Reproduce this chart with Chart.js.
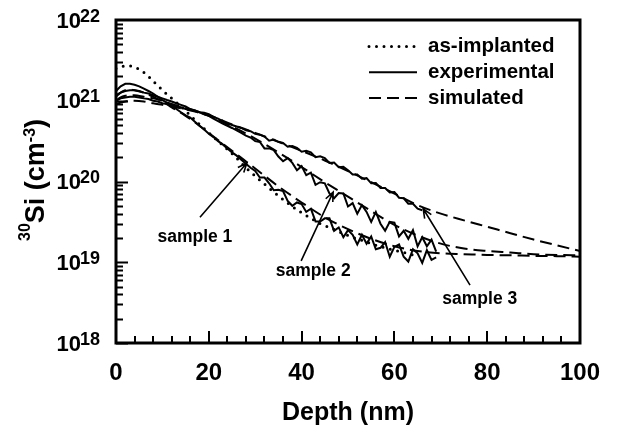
<!DOCTYPE html>
<html>
<head>
<meta charset="utf-8">
<script src="https://cdn.jsdelivr.net/npm/chart.js@4.4.1/dist/chart.umd.min.js"></script>
<style>
html, body { margin: 0; padding: 0; background: #fff; }
canvas { display: block; }
</style>
</head>
<body>
<canvas id="myChart" width="621" height="427"></canvas>
<script>
// depth (nm) of the measured SIMS profiles
var depthExp = [0,1,2,3,4,5,6,7,8,9,10,11,12,13,14,15,16,17,18,19,20,21,22,23,24,25,26,27,28,29,
  30,31,32,33,34,35,36,37,38,39,40,41,42,43,44,45,46,47,48,49,50,51,52,53,54,55,56,57,58,59,
  60,61,62,63,64,65,66,67,68,69];

var experimental1 = [1.32e21,1.51e21,1.62e21,1.62e21,1.58e21,1.51e21,1.41e21,1.32e21,1.23e21,1.12e21,
  1.02e21,9.5e20,8.7e20,7.9e20,7.2e20,6.6e20,6.2e20,5.5e20,4.9e20,4.4e20,
  3.9e20,3.55e20,3.16e20,2.88e20,2.57e20,2.29e20,2.09e20,1.86e20,1.66e20,1.48e20,
  1.35e20,1.12e20,1.12e20,9.5e19,7.8e19,7.9e19,7.6e19,5.75e19,5.0e19,5.5e19,
  5.25e19,4.2e19,4.6e19,3.2e19,3.2e19,3.5e19,3.5e19,2.45e19,2.7e19,2.04e19,
  2.5e19,2.19e19,1.66e19,2.19e19,1.70e19,2.09e19,1.45e19,1.51e19,1.78e19,1.17e19,
  1.55e19,1.66e19,1.17e19,1.02e19,1.45e19,1.29e19,9.8e18,1.41e19,1.07e19,1.15e19];

var experimental2 = [1.17e21,1.26e21,1.32e21,1.35e21,1.35e21,1.32e21,1.26e21,1.23e21,1.17e21,1.12e21,
  1.07e21,1.02e21,9.8e20,9.3e20,8.9e20,8.5e20,7.9e20,7.6e20,7.2e20,6.8e20,
  6.5e20,6.0e20,5.6e20,5.2e20,4.9e20,4.6e20,4.3e20,4.0e20,3.7e20,3.5e20,
  3.16e20,3.09e20,2.57e20,2.57e20,2.45e20,2.04e20,1.78e20,1.95e20,1.70e20,1.38e20,
  1.55e20,1.20e20,1.29e20,9.1e19,9.8e19,9.5e19,7.1e19,6.2e19,7.2e19,7.1e19,
  4.9e19,5.4e19,4.0e19,5.1e19,4.2e19,3.16e19,4.2e19,3.0e19,2.45e19,3.16e19,
  3.1e19,2.09e19,2.45e19,1.95e19,2.5e19,1.58e19,2.04e19,1.58e19,1.91e19,1.35e19];

var experimental3 = [1.0e21,1.07e21,1.10e21,1.12e21,1.12e21,1.10e21,1.07e21,1.05e21,1.0e21,9.8e20,
  9.3e20,9.1e20,8.9e20,8.5e20,8.3e20,7.9e20,7.8e20,7.6e20,7.2e20,7.1e20,
  6.8e20,6.3e20,6.0e20,5.6e20,5.2e20,5.0e20,4.8e20,4.6e20,4.3e20,4.2e20,
  3.9e20,3.8e20,3.6e20,3.2e20,3.3e20,3.1e20,3.0e20,2.7e20,2.75e20,2.6e20,
  2.34e20,2.4e20,2.3e20,2.0e20,2.05e20,1.95e20,1.7e20,1.72e20,1.5e20,1.52e20,
  1.38e20,1.22e20,1.22e20,1.08e20,1.1e20,9.5e19,9.6e19,8.3e19,8.3e19,7.3e19,
  7.4e19,6.3e19,6.2e19,5.3e19,5.3e19,4.6e19,4.4e19];

// simulated profiles
var depthSim = [0,1,2,3,4,6,8,10,12,15,20,25,30,35,40,45,50,55,60,65,70,75,80,85,90,95,100];
var simulated1 = [1.12e21,1.26e21,1.35e21,1.38e21,1.35e21,1.26e21,1.12e21,9.8e20,8.3e20,6.5e20,4.0e20,2.4e20,1.45e20,
  8.7e19,5.5e19,3.6e19,2.57e19,1.95e19,1.58e19,1.38e19,1.29e19,1.26e19,1.23e19,1.22e19,1.20e19,1.19e19,1.17e19];
var simulated2 = [1.0e21,1.10e21,1.15e21,1.17e21,1.17e21,1.12e21,1.07e21,1.0e21,9.1e20,8.1e20,6.5e20,4.8e20,3.4e20,
  2.29e20,1.51e20,9.8e19,6.5e19,4.3e19,2.9e19,2.14e19,1.70e19,1.48e19,1.38e19,1.32e19,1.26e19,1.23e19,1.22e19];
var simulated3 = [9.1e20,9.5e20,9.8e20,1.0e21,1.0e21,9.8e20,9.3e20,8.9e20,8.5e20,7.8e20,6.6e20,5.1e20,4.0e20,
  3.1e20,2.4e20,1.82e20,1.35e20,9.8e19,7.1e19,5.1e19,4.0e19,3.3e19,2.75e19,2.29e19,1.91e19,1.62e19,1.38e19];

// as-implanted profile
var depthImplanted = [0,1,2,3,4,5,6,7,8,9,10,12,14,16,18,20,22,24,26,28,30,32,34,36,38,40,42,44,46,48,50,52,54,56,58,60,62,64,65];
var implanted = [2.51e21,2.63e21,2.69e21,2.69e21,2.63e21,2.45e21,2.24e21,2.0e21,1.74e21,1.55e21,1.35e21,1.07e21,8.5e20,
  6.6e20,5.1e20,4.0e20,3.16e20,2.51e20,1.95e20,1.48e20,1.17e20,9.3e19,7.4e19,6.0e19,4.9e19,4.1e19,3.5e19,3.0e19,
  2.7e19,2.4e19,2.14e19,1.95e19,1.78e19,1.62e19,1.51e19,1.41e19,1.32e19,1.23e19,1.20e19];

var xTickLabels = [0, 20, 40, 60, 80, 100];
var yTickExponents = [18, 19, 20, 21, 22];
var legendNames = ['as-implanted', 'experimental', 'simulated'];

// sample labels: text position, arrow start, arrow tip (depth, concentration)
var sampleNames = ['sample 1', 'sample 2', 'sample 3'];
var sampleText  = [[17.0, 2.06e19], [42.5, 7.8e18], [78.4, 3.5e18]];
var arrowFrom   = [[18.1, 3.6e19], [39.9, 1.04e19], [76.3, 5.2e18]];
var arrowTo     = [[28.2, 1.69e20], [46.8, 7.4e19], [66.2, 4.6e19]];

var FONT = '"Liberation Sans", Arial, sans-serif';

function pts(xs, ys) {
  return ys.map(function (v, i) { return { x: xs[i], y: v }; });
}

var dotted = { borderColor: '#000', borderWidth: 3, borderDash: [0, 7.5], borderCapStyle: 'round', cubicInterpolationMode: 'monotone' };
var solid = { borderColor: '#000', borderWidth: 2, borderDash: [], borderCapStyle: 'butt' };
var dashed = { borderColor: '#000', borderWidth: 2, borderDash: [12, 6], borderCapStyle: 'butt', cubicInterpolationMode: 'monotone' };

var decor = {
  id: 'decor',
  afterDraw: function (chart) {
    var ctx = chart.ctx, a = chart.chartArea, xs = chart.scales.x, ys = chart.scales.y;
    ctx.save();
    ctx.strokeStyle = '#000';
    ctx.fillStyle = '#000';

    // frame
    ctx.lineWidth = 3;
    ctx.strokeRect(a.left, a.top, a.right - a.left, a.bottom - a.top);

    // ticks, pointing inside
    ctx.lineWidth = 2;
    ctx.beginPath();
    for (var v = 0; v <= 100; v += 4) {
      var px = Math.round(xs.getPixelForValue(v));
      var len = (v % 20 === 0) ? 12 : 7;
      ctx.moveTo(px, a.bottom);
      ctx.lineTo(px, a.bottom - len);
    }
    for (var e = 18; e < 22; e++) {
      for (var m = 1; m < 10; m++) {
        var py = Math.round(ys.getPixelForValue(m * Math.pow(10, e))) + 0.5;
        var l2 = m === 1 ? 12 : 7;
        ctx.moveTo(a.left, py);
        ctx.lineTo(a.left + l2, py);
      }
    }
    ctx.stroke();

    // x tick labels
    ctx.font = 'bold 24px ' + FONT;
    ctx.textAlign = 'center';
    ctx.textBaseline = 'alphabetic';
    xTickLabels.forEach(function (t) {
      ctx.fillText(String(t), xs.getPixelForValue(t), a.bottom + 37);
    });

    // y tick labels 10^n
    yTickExponents.forEach(function (n) {
      var py = ys.getPixelForValue(Math.pow(10, n));
      ctx.font = 'bold 22px ' + FONT;
      ctx.textAlign = 'right';
      ctx.fillText('10', a.left - 35, py + 7.5);
      ctx.font = 'bold 18px ' + FONT;
      ctx.textAlign = 'left';
      ctx.fillText(String(n), a.left - 36, py + 1.5);
    });

    // x title
    ctx.font = 'bold 25px ' + FONT;
    ctx.textAlign = 'center';
    ctx.fillText('Depth (nm)', (a.left + a.right) / 2, 420);

    // y title, rotated
    ctx.save();
    ctx.translate(44, 241);
    ctx.rotate(-Math.PI / 2);
    ctx.textAlign = 'left';
    var cx = 0;
    var parts = [['30', 16, -14], ['Si (cm', 27, 0], ['-3', 16, -9], [')', 27, 0]];
    parts.forEach(function (p) {
      ctx.font = 'bold ' + p[1] + 'px ' + FONT;
      ctx.fillText(p[0], cx, p[2]);
      cx += ctx.measureText(p[0]).width;
    });
    ctx.restore();

    // legend inside plot
    var legendSets = [chart.data.datasets[0], chart.data.datasets[1], chart.data.datasets[4]];
    legendNames.forEach(function (name, i) {
      var ds = legendSets[i];
      var y = a.top + 26.5 + i * 25.8;
      ctx.save();
      ctx.lineWidth = ds.borderWidth;
      ctx.setLineDash(ds.borderDash);
      ctx.lineCap = ds.borderCapStyle;
      ctx.beginPath();
      ctx.moveTo(a.right - 211, y);
      ctx.lineTo(a.right - 163, y);
      ctx.stroke();
      ctx.restore();
      ctx.font = 'bold 20.5px ' + FONT;
      ctx.textAlign = 'left';
      ctx.textBaseline = 'middle';
      ctx.fillText(name, a.right - 152, y);
    });

    // sample labels with arrows
    ctx.lineWidth = 1.6;
    ctx.setLineDash([]);
    sampleNames.forEach(function (name, i) {
      var tx = xs.getPixelForValue(sampleText[i][0]), ty = ys.getPixelForValue(sampleText[i][1]);
      ctx.font = 'bold 17.5px ' + FONT;
      ctx.textAlign = 'center';
      ctx.textBaseline = 'middle';
      ctx.fillText(name, tx, ty);
      var x0 = xs.getPixelForValue(arrowFrom[i][0]), y0 = ys.getPixelForValue(arrowFrom[i][1]);
      var x1 = xs.getPixelForValue(arrowTo[i][0]), y1 = ys.getPixelForValue(arrowTo[i][1]);
      var ang = Math.atan2(y1 - y0, x1 - x0);
      ctx.beginPath();
      ctx.moveTo(x0, y0);
      ctx.lineTo(x1, y1);
      ctx.moveTo(x1 - 10 * Math.cos(ang - 0.4), y1 - 10 * Math.sin(ang - 0.4));
      ctx.lineTo(x1, y1);
      ctx.lineTo(x1 - 10 * Math.cos(ang + 0.4), y1 - 10 * Math.sin(ang + 0.4));
      ctx.stroke();
    });

    ctx.restore();
  }
};

var ctx = document.getElementById('myChart').getContext('2d');
var myChart = new Chart(ctx, {
  type: 'line',
  data: {
    datasets: [
      Object.assign({ label: 'as-implanted', data: pts(depthImplanted, implanted) }, dotted),
      Object.assign({ label: 'experimental 1', data: pts(depthExp, experimental1) }, solid),
      Object.assign({ label: 'experimental 2', data: pts(depthExp, experimental2) }, solid),
      Object.assign({ label: 'experimental 3', data: pts(depthExp, experimental3) }, solid),
      Object.assign({ label: 'simulated 1', data: pts(depthSim, simulated1) }, dashed),
      Object.assign({ label: 'simulated 2', data: pts(depthSim, simulated2) }, dashed),
      Object.assign({ label: 'simulated 3', data: pts(depthSim, simulated3) }, dashed)
    ]
  },
  options: {
    responsive: false,
    animation: false,
    devicePixelRatio: 1,
    layout: { padding: { left: 116, top: 20, right: 41, bottom: 84 } },
    elements: { point: { radius: 0 }, line: { fill: false } },
    plugins: { legend: { display: false }, tooltip: { enabled: false } },
    scales: {
      x: { type: 'linear', min: 0, max: 100, display: false },
      y: { type: 'logarithmic', min: 1e18, max: 1e22, display: false }
    }
  },
  plugins: [decor]
});
</script>
</body>
</html>
